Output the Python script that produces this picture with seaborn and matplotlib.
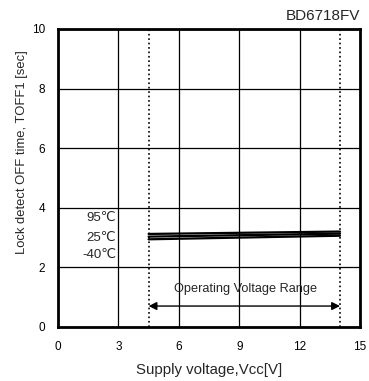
import matplotlib
matplotlib.use("Agg")
import matplotlib.pyplot as plt
import seaborn as sns
import pandas as pd

sns.set_theme(style="white")
plt.rcParams['font.family'] = ['Liberation Sans', 'DejaVu Sans']

vcc = [4.5, 14.0]
t95 = [3.12, 3.20]
t25 = [3.03, 3.13]
tm40 = [2.94, 3.06]
temps = ["95℃", "25℃", "-40℃"]
xticks = [0, 3, 6, 9, 12, 15]
yticks = [0, 2, 4, 6, 8, 10]

df = pd.DataFrame({
    "Vcc": vcc * 3,
    "T": t95 + t25 + tm40,
    "temp": [temps[0]] * 2 + [temps[1]] * 2 + [temps[2]] * 2,
})

fig = plt.figure(figsize=(3.69, 3.81), dpi=100)
ax = fig.add_axes([0.157, 0.142, 0.819, 0.782])
sns.lineplot(data=df, x="Vcc", y="T", units="temp", estimator=None,
             color="black", linewidth=1.6, ax=ax, legend=False)

ax.set_xlim(0, 15)
ax.set_ylim(0, 10)
ax.set_xticks(xticks)
ax.set_yticks(yticks)
ax.grid(True, color="black", linewidth=0.9)
for s in ax.spines.values():
    s.set_color("black")
    s.set_linewidth(2.0)
ax.tick_params(direction="in", length=4, width=1, colors="black", labelsize=8.5)
ax.tick_params(axis="x", pad=10)
ax.tick_params(axis="y", pad=9)

ax.axvline(vcc[0], color="black", linestyle=":", linewidth=1.2)
ax.axvline(vcc[1], color="black", linestyle=":", linewidth=1.2)

ax.annotate("", xy=(vcc[0], 0.7), xytext=(vcc[1], 0.7),
            arrowprops=dict(arrowstyle="<|-|>", color="black", lw=1.0,
                            mutation_scale=12, shrinkA=0, shrinkB=0))
ax.text(9.3, 1.28, "Operating Voltage Range", ha="center", va="center", fontsize=9.2)

for lbl, yv in zip(temps, [3.65, 3.0, 2.4]):
    ax.text(2.9, yv, lbl, ha="right", va="center", fontsize=9.5)

ax.set_xlabel("Supply voltage,Vcc[V]", fontsize=10.8, labelpad=7)
ax.set_ylabel("Lock detect OFF time, TOFF1 [sec]", fontsize=9.4, labelpad=5)
ax.yaxis.set_label_coords(-0.1, 0.587)
fig.text(0.976, 0.94, "BD6718FV", ha="right", va="bottom", fontsize=11)

fig.savefig("out.png", dpi=100)
